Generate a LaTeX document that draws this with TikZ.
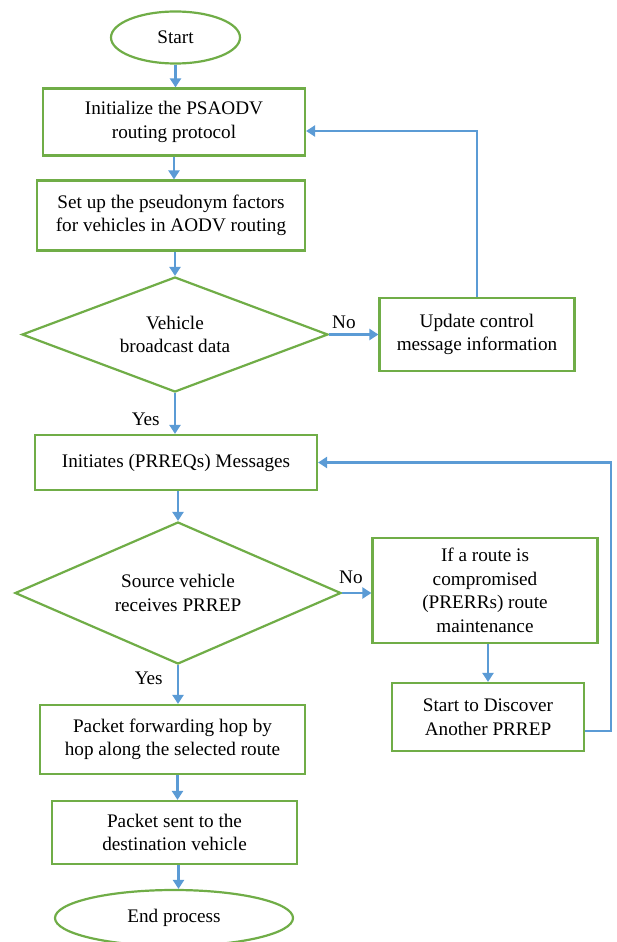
\documentclass[tikz,border=0pt]{standalone}
\usepackage{fontspec}
\setmainfont{Liberation Serif}
\usetikzlibrary{shapes.geometric,arrows.meta}
\definecolor{fgreen}{HTML}{70AD47}
\definecolor{fblue}{HTML}{5B9BD5}
\tikzset{
  box/.style={draw=fgreen,line width=2.2pt,fill=white,inner sep=0pt,align=center,font=\fontsize{19.2}{23.5}\selectfont},
  oval/.style={box,ellipse},
  dia/.style={box,diamond},
  arr/.style={draw=fblue,line width=2.6pt,-{Triangle[width=11pt,length=9pt]}},
  lbl/.style={font=\fontsize{19.2}{22}\selectfont,inner sep=0pt}
}
\begin{document}
\begin{tikzpicture}[x=1pt,y=-1pt]
\useasboundingbox (0,0) rectangle (617,942);
\node[oval,minimum width=129pt,minimum height=52pt] (start) at (175.5,37.5) {Start};
\node[box,minimum width=262pt,minimum height=67pt] (init) at (174,122) {Initialize the PSAODV\\routing protocol};
\node[box,minimum width=268pt,minimum height=70pt] (setup) at (171,215.5) {Set up the pseudonym factors\\for vehicles in AODV routing};
\node[dia,minimum width=306pt,minimum height=115pt,aspect=2.66] (d1) at (175,334.5) {Vehicle\\broadcast data};
\node[box,minimum width=195pt,minimum height=73pt] (upd) at (477,334.5) {Update control\\message information};
\node[box,minimum width=282pt,minimum height=55pt] (ini) at (176,462.5) {Initiates (PRREQs) Messages};
\node[dia,minimum width=326pt,minimum height=142pt,aspect=2.3] (d2) at (178,593) {Source vehicle\\receives PRREP};
\node[box,minimum width=225pt,minimum height=105pt] (route) at (485,590.5) {If a route is\\compromised\\(PRERRs) route\\maintenance};
\node[box,minimum width=192pt,minimum height=68pt] (disc) at (488,717) {Start to Discover\\Another PRREP};
\node[box,minimum width=265pt,minimum height=69pt] (pkt) at (172.5,739.5) {Packet forwarding hop by\\hop along the selected route};
\node[box,minimum width=245pt,minimum height=63pt] (sent) at (174.5,832.5) {Packet sent to the\\destination vehicle};
\node[oval,minimum width=238pt,minimum height=56pt] (end) at (174,918) {End process};
\coordinate (c2) at (611,0);
\draw[arr] (start.south) -- (start.south |- init.north);
\draw[arr] (init.south) -- (init.south |- setup.north);
\draw[arr] (setup.south -| d1.north) -- (d1.north);
\draw[arr] (d1.east) -- (d1.east -| upd.west) node[lbl,pos=0.3,above=5pt] {No};
\draw[arr] (upd.north) |- ([yshift=-9pt]init.east);
\draw[arr] (d1.south) -- (d1.south |- ini.north) node[lbl,pos=0.65,left=14pt] {Yes};
\draw[arr] (ini.south -| d2.north) -- (d2.north);
\draw[arr] (d2.east) -- (d2.east -| route.west) node[lbl,pos=0.3,above=8pt] {No};
\draw[arr] (route.south -| disc.north) -- (disc.north);
\draw[arr] ([yshift=-14pt]disc.east) -| (c2 |- ini.east) -- (ini.east);
\draw[arr] (d2.south) -- (d2.south |- pkt.north) node[lbl,pos=0.35,left=14pt] {Yes};
\draw[arr] ([xshift=5pt]pkt.south) -- ([xshift=5pt]pkt.south |- sent.north);
\draw[arr] ([xshift=4pt]sent.south) -- ([xshift=4pt]sent.south |- end.north);
\end{tikzpicture}
\end{document}
